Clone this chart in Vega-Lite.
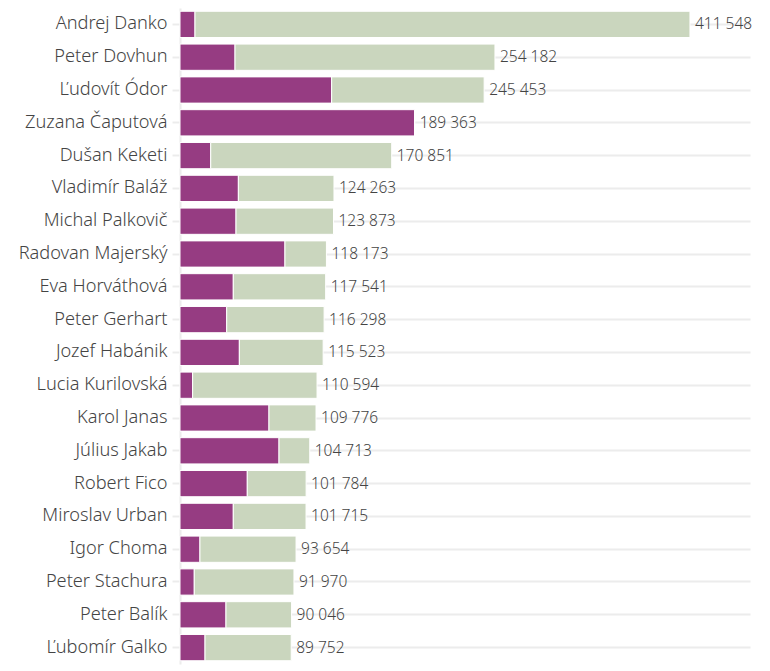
{
  "$schema": "https://vega.github.io/schema/vega-lite/v6.json",
  "autosize": "none",
  "width": 570,
  "height": 656,
  "padding": {"left": 180, "top": 8, "right": 20, "bottom": 7},
  "background": "white",
  "config": {
    "view": {"stroke": null},
    "font": "Noto Sans",
    "locale": {"number": {"decimal": ",", "thousands": " ", "grouping": [3], "currency": ["", " €"]}}
  },
  "data": {"values": [
    {"name": "Andrej Danko", "first": 12100, "total": 411548},
    {"name": "Peter Dovhun", "first": 44400, "total": 254182},
    {"name": "Ľudovít Ódor", "first": 122400, "total": 245453},
    {"name": "Zuzana Čaputová", "first": 189363, "total": 189363},
    {"name": "Dušan Keketi", "first": 24800, "total": 170851},
    {"name": "Vladimír Baláž", "first": 47100, "total": 124263},
    {"name": "Michal Palkovič", "first": 45200, "total": 123873},
    {"name": "Radovan Majerský", "first": 84700, "total": 118173},
    {"name": "Eva Horváthová", "first": 43000, "total": 117541},
    {"name": "Peter Gerhart", "first": 37700, "total": 116298},
    {"name": "Jozef Habánik", "first": 47900, "total": 115523},
    {"name": "Lucia Kurilovská", "first": 10200, "total": 110594},
    {"name": "Karol Janas", "first": 71800, "total": 109776},
    {"name": "Július Jakab", "first": 79900, "total": 104713},
    {"name": "Robert Fico", "first": 54300, "total": 101784},
    {"name": "Miroslav Urban", "first": 43000, "total": 101715},
    {"name": "Igor Choma", "first": 16100, "total": 93654},
    {"name": "Peter Stachura", "first": 11500, "total": 91970},
    {"name": "Peter Balík", "first": 37100, "total": 90046},
    {"name": "Ľubomír Galko", "first": 20200, "total": 89752}
  ]},
  "encoding": {
    "y": {
      "field": "name", "type": "nominal", "sort": null,
      "scale": {"paddingInner": 0.2, "paddingOuter": 0.1},
      "axis": {
        "title": null, "grid": true, "gridColor": "#ececec", "gridWidth": 2,
        "domainColor": "#ececec", "domainWidth": 2,
        "tickColor": "#ececec", "tickWidth": 2, "tickSize": 8,
        "labelFontSize": 18.2, "labelColor": "#444", "labelPadding": 5,
        "labelFont": "Noto Sans", "labelFontWeight": 300
      }
    }
  },
  "layer": [
    {
      "mark": {"type": "bar", "color": "#963c82", "stroke": "white", "strokeWidth": 1},
      "encoding": {
        "x": {"field": "first", "type": "quantitative", "scale": {"domain": [0, 460000], "nice": false}, "axis": null}
      }
    },
    {
      "mark": {"type": "bar", "color": "#cad6be", "stroke": "white", "strokeWidth": 1},
      "encoding": {
        "x": {"field": "first", "type": "quantitative"},
        "x2": {"field": "total"}
      }
    },
    {
      "mark": {"type": "text", "align": "left", "baseline": "middle", "dx": 5, "fontSize": 15.5, "fontWeight": 300, "color": "#444"},
      "encoding": {
        "x": {"field": "total", "type": "quantitative"},
        "text": {"field": "total", "type": "quantitative", "format": ",d"}
      }
    }
  ]
}
